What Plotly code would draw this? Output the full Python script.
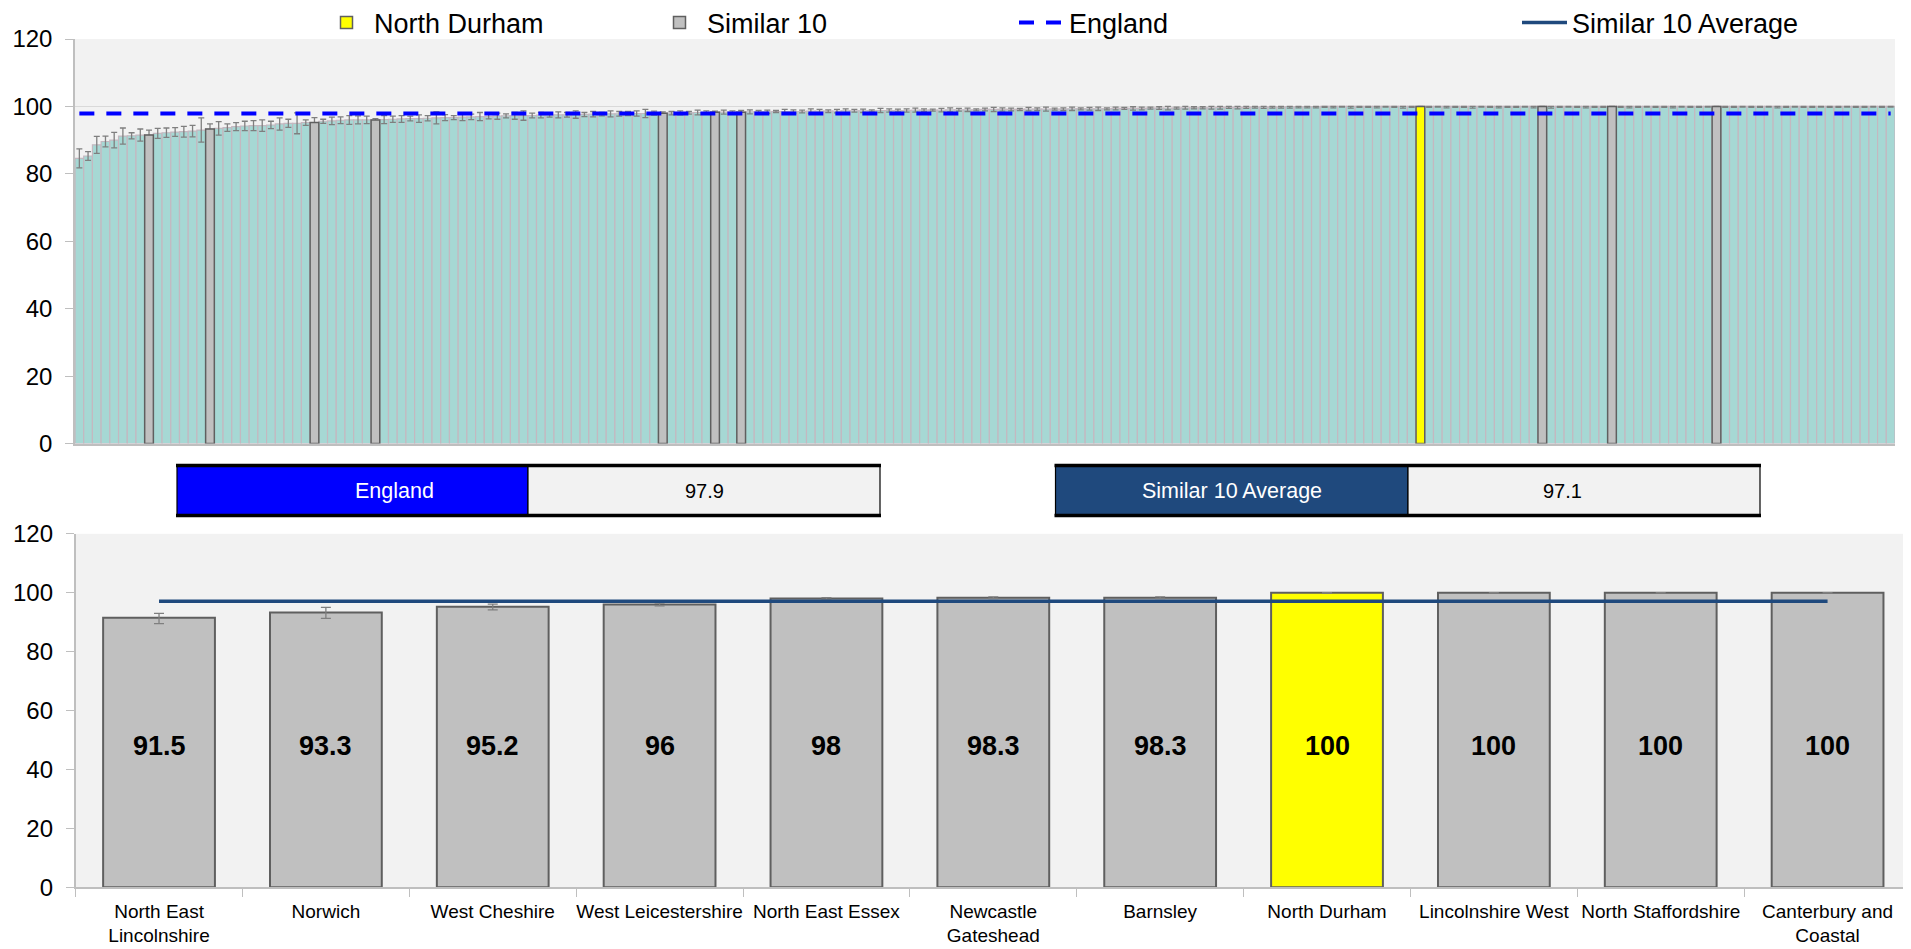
import plotly.graph_objects as go

W, H = 1911, 949          # reference picture size
OFF = 8                   # page body margin the figure is offset by
FW, FH = W - OFF, H - OFF # figure size
ML = 67                   # left margin (figure px)

# ---------------- data ----------------
all_values = [
    84.6, 85.3, 88.6, 89.6, 90.0, 91.2, 91.3, 91.5, 91.5, 92.0,
    92.2, 92.4, 92.5, 92.7, 93.0, 93.3, 93.5, 93.7, 94.0, 94.2,
    94.3, 94.3, 94.5, 94.8, 95.0, 95.0, 95.2, 95.2, 95.6, 95.7,
    95.9, 96.0, 96.0, 96.0, 96.0,
    96.1, 96.2, 96.3, 96.4, 96.4, 96.5, 96.6, 96.7, 96.7, 96.8,
    96.9, 97.0, 97.0, 97.1, 97.2, 97.2, 97.3, 97.3, 97.4, 97.4,
    97.5, 97.5, 97.6, 97.6, 97.7, 97.7, 97.8, 97.8, 97.9, 97.9,
    97.9, 98.0,
    98.0, 98.0, 98.1, 98.1, 98.2, 98.2, 98.3, 98.3, 98.3, 98.3,
    98.4, 98.4, 98.4, 98.5, 98.5, 98.5, 98.5, 98.6, 98.6, 98.6,
    98.6, 98.7, 98.7, 98.7, 98.7, 98.8, 98.8, 98.8, 98.8, 98.9,
    98.9, 98.9, 98.9, 99.0,
    99.0, 99.0, 99.0, 99.1, 99.1, 99.1, 99.1, 99.1, 99.2, 99.2,
    99.2, 99.2, 99.2, 99.3, 99.3, 99.3, 99.3, 99.3, 99.4, 99.4,
    99.4, 99.4, 99.5, 99.5, 99.5, 99.5, 99.6, 99.6, 99.6, 99.6,
    99.7, 99.7, 99.7, 99.7, 99.8, 99.8, 99.8, 99.8, 99.9, 99.9,
    99.9, 99.9,
    100, 100, 100, 100, 100, 100, 100, 100, 100, 100,
    100, 100, 100, 100, 100, 100, 100, 100, 100, 100,
    100, 100, 100, 100, 100, 100, 100, 100, 100, 100,
    100, 100, 100, 100, 100, 100, 100, 100, 100, 100,
    100, 100, 100, 100, 100, 100, 100, 100, 100, 100,
    100, 100, 100, 100, 100, 100, 100, 100, 100, 100,
    100, 100, 100, 100, 100, 100,
]

err_minus = [
    2.8, 1.3, 2.5, 1.6, 2.3, 2.4, 0.9, 1.8, 1.5, 1.5,
    1.4, 1.3, 1.6, 1.7, 3.6, 1.5, 2.0, 1.1, 1.2, 1.4,
    1.5, 1.7, 1.1, 1.8, 1.2, 3.1, 0.8, 1.5, 0.6, 1.1,
    1.0, 1.3, 1.2, 1.1,
    0.4, 1.2, 0.9, 1.0, 0.7, 1.1, 0.8, 1.8, 0.9, 0.6,
    1.0, 0.8, 1.2, 0.7, 0.9, 0.6, 1.0, 1.4, 0.7, 0.8,
    0.6, 0.9, 0.7, 1.1, 0.6, 0.8, 0.5, 0.9, 0.7, 0.6,
    0.8, 1.2, 0.6,
    0.4, 0.5, 0.6, 0.4, 0.7, 0.5, 0.3, 0.6, 0.4, 0.5,
    0.6, 0.4, 0.5, 0.3, 0.6, 0.5, 0.4, 0.7, 0.5, 0.4,
    0.5, 0.6, 0.4, 0.5, 0.3, 0.6, 0.5, 0.4, 0.5, 0.6,
    0.4, 0.3, 0.5, 0.6, 0.4, 0.5, 0.3, 0.4, 0.6, 0.5,
    0.4, 0.3, 0.5, 0.4, 0.6, 0.3, 0.4, 0.5, 0.3, 0.4,
    0.5, 0.3, 0.4, 0.3, 0.5, 0.4, 0.3, 0.4, 0.5, 0.3,
    0.4, 0.3, 0.3, 0.4, 0.5, 0.3, 0.4, 0.3, 0.3, 0.4,
    0.3, 0.3, 0.4, 0.3, 0.3, 0.3,
    0.3, 0.4, 0.2, 0.5, 0.3, 0.3, 0.4, 0.2, 0.3, 0.5,
    0.3, 0.4, 0.3, 0.2, 0.4, 0.3, 0.3, 0.5, 0.2, 0.3,
    0.4, 0.3, 0.3, 0.2, 0.4, 0.3, 0.5, 0.3, 0.2, 0.3,
    0.4, 0.3, 0.3, 0.2, 0.3, 0.4, 0.3, 0.2, 0.3, 0.3,
    0.4, 0.2, 0.3, 0.3, 0.2, 0.4, 0.3, 0.3, 0.2, 0.3,
    0.3, 0.2, 0.4, 0.3, 0.2, 0.3, 0.3, 0.2, 0.3, 0.3,
    0.2, 0.3, 0.3, 0.2, 0.3, 0.2,
]

err_plus = [
    2.8, 1.3, 2.5, 1.6, 2.3, 2.4, 0.9, 1.8, 1.5, 1.5,
    1.4, 1.3, 1.6, 1.7, 3.6, 1.5, 2.0, 1.1, 1.2, 1.4,
    1.5, 1.7, 1.1, 1.8, 1.2, 3.1, 0.8, 1.5, 0.6, 1.1,
    1.0, 1.3, 1.2, 1.1,
    0.4, 1.2, 0.9, 1.0, 0.7, 1.1, 0.8, 1.8, 0.9, 0.6,
    1.0, 0.8, 1.2, 0.7, 0.9, 0.6, 1.0, 1.4, 0.7, 0.8,
    0.6, 0.9, 0.7, 1.1, 0.6, 0.8, 0.5, 0.9, 0.7, 0.6,
    0.8, 1.2, 0.6,
    0.4, 0.5, 0.6, 0.4, 0.7, 0.5, 0.3, 0.6, 0.4, 0.5,
    0.6, 0.4, 0.5, 0.3, 0.6, 0.5, 0.4, 0.7, 0.5, 0.4,
    0.5, 0.6, 0.4, 0.5, 0.3, 0.6, 0.5, 0.4, 0.5, 0.6,
    0.4, 0.3, 0.5, 0.6, 0.4, 0.5, 0.3, 0.4, 0.6, 0.5,
    0.4, 0.3, 0.5, 0.4, 0.6, 0.3, 0.4, 0.5, 0.3, 0.4,
    0.5, 0.3, 0.4, 0.3, 0.5, 0.4, 0.3, 0.4, 0.5, 0.3,
    0.4, 0.3, 0.3, 0.4, 0.3, 0.3, 0.3, 0.3, 0.2, 0.2,
    0.2, 0.2, 0.1, 0.1, 0.1, 0.1,
    0, 0, 0, 0, 0, 0, 0, 0, 0, 0,
    0, 0, 0, 0, 0, 0, 0, 0, 0, 0,
    0, 0, 0, 0, 0, 0, 0, 0, 0, 0,
    0, 0, 0, 0, 0, 0, 0, 0, 0, 0,
    0, 0, 0, 0, 0, 0, 0, 0, 0, 0,
    0, 0, 0, 0, 0, 0, 0, 0, 0, 0,
    0, 0, 0, 0, 0, 0,
]

ccg_rank = list(range(len(all_values)))

similar_labels = [
    "North East<br>Lincolnshire", "Norwich", "West Cheshire", "West Leicestershire",
    "North East Essex", "Newcastle<br>Gateshead", "Barnsley", "North Durham",
    "Lincolnshire West", "North Staffordshire", "Canterbury and<br>Coastal",
]
similar_values = [91.5, 93.3, 95.2, 96, 98, 98.3, 98.3, 100, 100, 100, 100]
similar_rank = [8, 15, 27, 34, 67, 73, 76, 154, 168, 176, 188]
similar_err_minus = [2.0, 2.0, 1.0, 0.5, 0.3, 0.3, 0.3, 0.1, 0.1, 0.1, 0.1]
similar_err_plus = [1.5, 1.7, 0.9, 0.5, 0.3, 0.3, 0.3, 0.0, 0.0, 0.0, 0.0]
focus_name = "North Durham"

england_value = 97.9
similar_avg_value = 97.1

# ---------------- styles ----------------
TEAL = "#A6D8D4"
DIVIDER = "#C4B8C0"
GREY = "#C0C0C0"
GREY_EDGE = "#5F5F5F"
YELLOW = "#FFFF00"
ENG_BLUE = "#0000FF"
AVG_BLUE = "#1F497D"
BG = "#F2F2F2"
FONT = "Liberation Sans, Arial, sans-serif"


def px_x(p):
    """reference-picture x pixel -> paper fraction"""
    return (p - OFF - ML) / (FW - ML)


def px_y(p):
    """reference-picture y pixel -> paper fraction"""
    return 1 - (p - OFF) / FH


def cont_x(p):
    return (p - OFF) / FW


focus_idx = similar_labels.index(focus_name)
others = [i for i in range(len(similar_labels)) if i != focus_idx]

fig = go.Figure()

# top chart: all CCGs
fig.add_trace(go.Bar(
    x=ccg_rank, y=all_values, width=1, showlegend=False,
    marker=dict(color=TEAL, line=dict(color=DIVIDER, width=1.2)),
    error_y=dict(type="data", symmetric=False, array=err_plus, arrayminus=err_minus,
                 color="#7F7F7F", thickness=1.3, width=3),
    xaxis="x", yaxis="y", hoverinfo="skip",
))
fig.add_trace(go.Bar(
    x=[similar_rank[i] for i in others], y=[similar_values[i] for i in others],
    width=1, name="Similar 10", legend="legend2",
    marker=dict(color=GREY, line=dict(color=GREY_EDGE, width=1.5)),
    xaxis="x", yaxis="y",
))
fig.add_trace(go.Bar(
    x=[similar_rank[focus_idx]], y=[similar_values[focus_idx]],
    width=1, name=focus_name, legend="legend",
    marker=dict(color=YELLOW, line=dict(color=GREY_EDGE, width=1.5)),
    xaxis="x", yaxis="y",
))
fig.add_trace(go.Scatter(
    x=ccg_rank, y=[england_value] * len(ccg_rank), mode="lines",
    name="England", legend="legend3",
    line=dict(color=ENG_BLUE, width=4, dash="15px,12px"),
    xaxis="x", yaxis="y",
))

# bottom chart: similar 10
bar_colors = [YELLOW if i == focus_idx else GREY for i in range(len(similar_labels))]
fig.add_trace(go.Bar(
    x=similar_labels, y=similar_values, width=0.67, showlegend=False,
    marker=dict(color=bar_colors, line=dict(color=GREY_EDGE, width=2)),
    error_y=dict(type="data", symmetric=False, array=similar_err_plus,
                 arrayminus=similar_err_minus, color="#7F7F7F", thickness=1.3, width=5),
    xaxis="x2", yaxis="y2",
))
fig.add_trace(go.Scatter(
    x=similar_labels, y=[similar_avg_value] * len(similar_labels), mode="lines",
    name="Similar 10 Average", legend="legend4",
    line=dict(color=AVG_BLUE, width=3.5),
    xaxis="x2", yaxis="y2",
))

annotations = []
for lab, v in zip(similar_labels, similar_values):
    annotations.append(dict(
        x=lab, y=48, xref="x2", yref="y2", text=f"<b>{v:g}</b>", showarrow=False,
        font=dict(family=FONT, size=27, color="black"),
    ))

# summary boxes between the charts
shapes = []
box_top, box_bot = 465.5, 515.5
boxes = [
    (177, 528, ENG_BLUE, "England", "white", 21.5),
    (528, 880, BG, f"{england_value:g}", "black", 20),
    (1055.5, 1408, AVG_BLUE, "Similar 10 Average", "white", 21.5),
    (1408, 1760, BG, f"{similar_avg_value:g}", "black", 20),
]
for x0, x1, fill, txt, tcol, fs in boxes:
    shapes.append(dict(type="rect", xref="paper", yref="paper",
                       x0=px_x(x0), x1=px_x(x1), y0=px_y(box_bot), y1=px_y(box_top),
                       fillcolor=fill, line=dict(color="black", width=1.2), layer="above"))
    annotations.append(dict(x=px_x((x0 + x1) / 2), y=px_y((box_top + box_bot) / 2),
                            xref="paper", yref="paper", text=txt, showarrow=False,
                            font=dict(family=FONT, size=fs, color=tcol)))
for x0, x1 in [(177, 880), (1055.5, 1760)]:
    for yy in (box_top, box_bot):
        shapes.append(dict(type="line", xref="paper", yref="paper",
                           x0=px_x(x0 - 1), x1=px_x(x1 + 1), y0=px_y(yy), y1=px_y(yy),
                           line=dict(color="black", width=3.5), layer="above"))

axis_common = dict(showline=True, linecolor="#BFBFBF", linewidth=1.5)
yaxis_common = dict(
    range=[0, 120], dtick=20, ticks="outside", ticklen=8, tickcolor="#BFBFBF",
    tickfont=dict(family=FONT, size=24, color="black"),
    gridcolor="#D9D9D9", gridwidth=1, zeroline=False, ticklabelstandoff=8,
    **axis_common,
)

legend_common = dict(
    orientation="h", xref="container", yref="container", yanchor="middle",
    y=1 - (23 - OFF) / FH, bgcolor="rgba(0,0,0,0)", borderwidth=0,
    font=dict(family=FONT, size=27, color="black"), itemwidth=45,
)

fig.update_layout(
    width=FW, height=FH,
    margin=dict(l=ML, r=0, t=0, b=0, autoexpand=False),
    paper_bgcolor="white", plot_bgcolor=BG,
    barmode="overlay",
    showlegend=True,
    font=dict(family=FONT),
    xaxis=dict(domain=[0, px_x(1895)], range=[-0.5, len(all_values) - 0.5],
               showticklabels=False, ticks="", showgrid=False, zeroline=False,
               anchor="y", **axis_common),
    yaxis=dict(domain=[px_y(443.6), px_y(39)], anchor="x", showgrid=True, **yaxis_common),
    xaxis2=dict(domain=[px_x(75.6), 1], anchor="y2", type="category", ticks="outside",
                tickson="boundaries", ticklen=8, tickcolor="#BFBFBF", showgrid=False,
                tickangle=0, ticklabelstandoff=6,
                tickfont=dict(family=FONT, size=19, color="black"), **axis_common),
    yaxis2=dict(domain=[px_y(887.2), px_y(533.8)], anchor="x2", showgrid=False,
                **yaxis_common),
    legend=dict(x=cont_x(319), **legend_common),
    legend2=dict(x=cont_x(652), **legend_common),
    legend3=dict(x=cont_x(1014), **legend_common),
    legend4=dict(x=cont_x(1517), **legend_common),
    shapes=shapes,
    annotations=annotations,
)

fig.write_html("out.html")
